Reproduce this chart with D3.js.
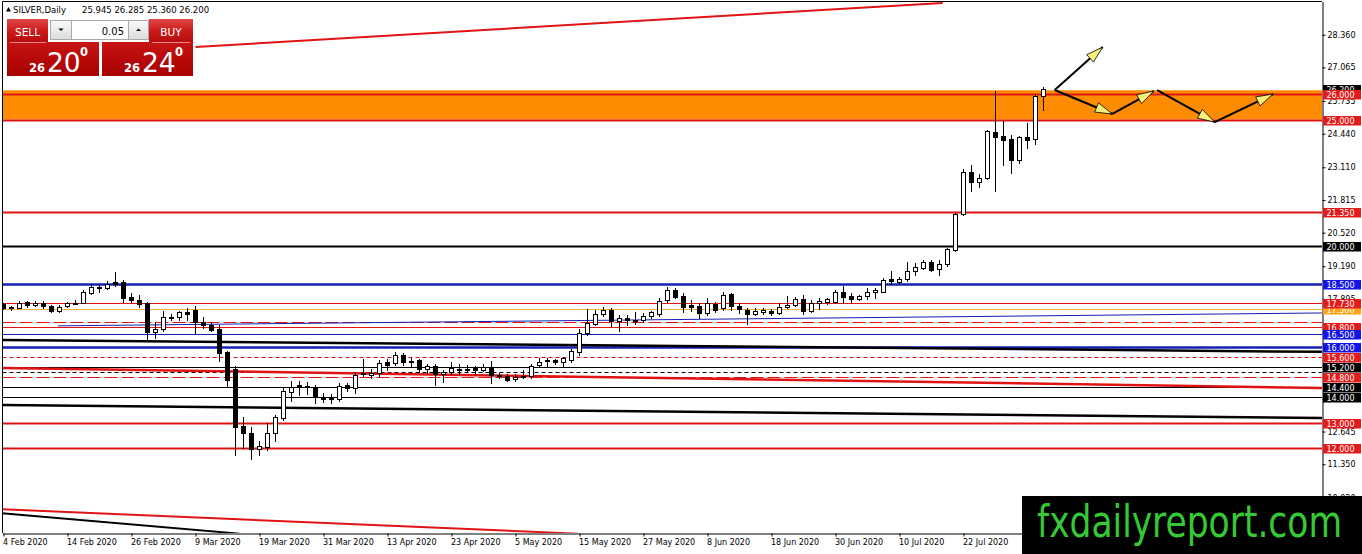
<!DOCTYPE html>
<html>
<head>
<meta charset="utf-8">
<title>SILVER, Daily</title>
<script src="https://cdn.jsdelivr.net/npm/d3@7/dist/d3.min.js"></script>
<style>
  body { margin: 0; background: #fff; }
  svg { display: block; }
  text { font-family: "DejaVu Sans", sans-serif; }
</style>
</head>
<body>
<div id="chart"></div>
<script>
// daily bars from 4 Feb 2020, one row per bar: [open, high, low, close]
const candles = [
  [17.68, 17.72, 17.50, 17.53], [17.58, 17.62, 17.45, 17.52], [17.55, 17.80, 17.52, 17.75], [17.77, 17.82, 17.57, 17.64],
  [17.65, 17.80, 17.63, 17.74], [17.74, 17.80, 17.53, 17.60], [17.62, 17.64, 17.37, 17.40], [17.42, 17.66, 17.37, 17.56],
  [17.60, 17.78, 17.57, 17.73], [17.72, 17.85, 17.68, 17.75], [17.73, 18.23, 17.72, 18.16], [18.12, 18.47, 18.08, 18.38],
  [18.33, 18.45, 18.16, 18.38], [18.33, 18.61, 18.30, 18.49], [18.58, 18.95, 18.42, 18.47], [18.57, 18.65, 17.78, 17.92],
  [17.97, 18.14, 17.78, 17.86], [17.86, 18.06, 17.57, 17.70], [17.72, 17.79, 16.30, 16.60], [16.60, 17.00, 16.36, 16.71],
  [16.70, 17.42, 16.63, 17.17], [17.17, 17.30, 17.05, 17.20], [17.17, 17.43, 17.05, 17.37], [17.38, 17.55, 17.05, 17.28],
  [17.46, 17.60, 16.51, 16.97], [17.00, 17.17, 16.75, 16.86], [16.86, 16.99, 16.63, 16.67], [16.70, 16.85, 15.45, 15.77],
  [15.78, 15.84, 14.43, 14.69], [15.11, 15.24, 11.72, 12.84], [12.86, 13.23, 11.98, 12.57], [12.57, 12.84, 11.54, 11.94],
  [11.95, 12.25, 11.72, 12.06], [12.02, 12.99, 11.92, 12.57], [12.57, 13.30, 12.25, 13.23], [13.20, 14.35, 13.10, 14.25],
  [14.22, 14.65, 13.85, 14.40], [14.47, 14.65, 14.08, 14.42], [14.42, 14.60, 14.12, 14.45], [14.39, 14.49, 13.76, 14.02],
  [14.02, 14.16, 13.82, 13.94], [13.94, 14.12, 13.78, 13.96], [13.92, 14.55, 13.87, 14.45], [14.47, 14.55, 14.23, 14.35],
  [14.36, 15.02, 14.19, 14.89], [14.92, 15.52, 14.85, 14.96], [14.90, 15.12, 14.75, 14.98], [14.96, 15.49, 14.80, 15.36],
  [15.38, 15.52, 15.08, 15.28], [15.34, 15.80, 15.28, 15.67], [15.67, 15.76, 15.28, 15.40], [15.45, 15.56, 15.20, 15.43],
  [15.46, 15.53, 14.99, 15.14], [15.13, 15.32, 14.96, 15.22], [15.24, 15.32, 14.48, 14.94], [14.92, 15.08, 14.62, 15.02],
  [15.00, 15.38, 14.92, 15.16], [15.13, 15.30, 14.92, 15.12], [15.12, 15.26, 15.00, 15.14], [15.16, 15.22, 14.93, 15.10],
  [15.10, 15.30, 15.04, 15.21], [15.19, 15.44, 14.58, 14.88], [14.89, 14.95, 14.76, 14.84], [14.86, 14.94, 14.65, 14.70],
  [14.72, 14.94, 14.66, 14.82], [14.80, 15.08, 14.76, 14.86], [14.84, 15.31, 14.76, 15.25], [15.28, 15.57, 15.19, 15.38],
  [15.43, 15.57, 15.21, 15.46], [15.47, 15.53, 15.31, 15.38], [15.38, 15.58, 15.25, 15.54], [15.48, 15.90, 15.40, 15.83],
  [15.81, 16.69, 15.68, 16.56], [16.56, 17.51, 16.47, 16.94], [16.89, 17.45, 16.85, 17.30], [17.29, 17.59, 17.23, 17.46],
  [17.46, 17.55, 16.84, 17.02], [17.03, 17.26, 16.64, 17.13], [17.16, 17.26, 16.86, 17.06], [17.05, 17.36, 16.90, 17.08],
  [17.07, 17.33, 16.97, 17.23], [17.22, 17.43, 17.13, 17.36], [17.29, 17.92, 17.23, 17.83], [17.85, 18.38, 17.79, 18.25],
  [18.25, 18.34, 17.94, 17.98], [18.01, 18.12, 17.39, 17.59], [17.66, 17.85, 17.42, 17.58], [17.61, 17.75, 17.15, 17.35],
  [17.35, 17.92, 17.26, 17.72], [17.70, 17.79, 17.39, 17.46], [17.53, 18.16, 17.46, 18.05], [18.08, 18.14, 17.46, 17.62],
  [17.62, 17.72, 17.33, 17.49], [17.46, 17.55, 16.91, 17.29], [17.29, 17.52, 17.24, 17.42], [17.38, 17.55, 17.30, 17.46],
  [17.43, 17.50, 17.26, 17.32], [17.32, 17.75, 17.30, 17.56], [17.56, 18.01, 17.55, 17.66], [17.64, 17.99, 17.60, 17.89],
  [17.88, 18.05, 17.29, 17.42], [17.43, 17.85, 17.37, 17.75], [17.73, 17.94, 17.49, 17.81], [17.77, 17.94, 17.70, 17.89],
  [17.79, 18.25, 17.75, 18.16], [18.16, 18.41, 17.75, 17.96], [18.00, 18.12, 17.79, 17.89], [17.90, 18.05, 17.86, 18.01],
  [18.00, 18.32, 17.89, 18.19], [18.16, 18.32, 17.92, 18.25], [18.19, 18.71, 18.16, 18.64], [18.68, 18.99, 18.49, 18.59],
  [18.58, 18.78, 18.49, 18.69], [18.67, 19.35, 18.62, 18.99], [19.00, 19.32, 18.84, 19.15], [19.13, 19.44, 19.08, 19.37],
  [19.37, 19.44, 19.01, 19.04], [19.08, 19.44, 18.86, 19.29], [19.28, 19.93, 19.20, 19.86], [19.83, 21.31, 19.81, 21.26],
  [21.25, 23.04, 21.20, 22.91], [22.91, 23.20, 22.17, 22.51], [22.53, 22.85, 22.32, 22.68], [22.70, 24.59, 22.63, 24.55],
  [24.50, 26.13, 22.17, 24.32], [24.35, 24.94, 23.20, 24.19], [24.22, 24.39, 22.88, 23.40], [23.40, 24.35, 23.29, 24.30],
  [24.30, 24.86, 23.86, 24.20], [24.22, 26.00, 24.02, 25.93], [25.945, 26.285, 25.36, 26.20]
];

// time axis: bar index and its label
const dateTickBars = [0, 8, 16, 24, 32, 40, 48, 56, 64, 72, 80, 88, 96, 104, 112, 120];
const dateTickLabels = ["4 Feb 2020", "14 Feb 2020", "26 Feb 2020", "9 Mar 2020", "19 Mar 2020", "31 Mar 2020",
  "13 Apr 2020", "23 Apr 2020", "5 May 2020", "15 May 2020", "27 May 2020", "8 Jun 2020",
  "18 Jun 2020", "30 Jun 2020", "10 Jul 2020", "22 Jul 2020"];

const priceTicks = [28.360, 27.065, 25.735, 24.440, 23.110, 21.815, 20.520, 19.190,
  17.895, 16.565, 15.270, 13.940, 12.645, 11.350, 10.020];

// horizontal levels, grouped by how they are drawn
const redThick = [26.0, 25.0, 21.35, 13.0, 12.0];
const redThin = [17.73, 16.8];
const redDashed = [14.8];
const redDashedNoTag = [17.0];
const redDotted = [15.6];
const blackThick = [20.0];
const blackThin = [15.2, 14.4, 14.0];
const blackDottedNoTag = [15.0];
const blueThick = [18.5, 16.0];
const blueThin = [16.5];
const orangeThin = [17.5];

// resistance zone [top, bottom]
const zone = [26.16, 25.0];

// trend lines as [bar index, price] anchors
const trendTop = [[24, 27.87], [117.4, 29.62]];
const trendBlue = [[6.8, 16.83], [164.8, 17.34]];
const trendBlackHigh = [[-0.2, 16.27], [164.8, 15.80]];
const trendRed = [[-0.2, 15.16], [164.8, 14.37]];
const trendBlackLow = [[-0.2, 13.70], [164.8, 13.18]];
const trendRedBottom = [[-0.2, 9.57], [71.8, 8.60]];
const trendBlackBottom = [[-0.2, 9.41], [29.5, 8.60]];

// projected paths, each drawn as arrows
const pathUp = [[131.4, 26.17], [137.4, 27.87]];
const pathZig1 = [[131.4, 26.17], [138.6, 25.22], [143.8, 26.13]];
const pathZig2 = [[144.2, 26.17], [151.4, 24.90], [158.7, 26.01]];

const symbol = "SILVER,Daily";
const sellPrice = ["26", "20", "0"];
const buyPrice = ["26", "24", "0"];
const lotSize = "0.05";

const width = 1362, height = 554;
const plot = { left: 2.5, right: 1322, top: 1.5, bottom: 533 };

const svg = d3.select("#chart").append("svg")
  .attr("width", width).attr("height", height);

const defs = svg.append("defs");
defs.append("clipPath").attr("id", "plotclip").append("rect")
  .attr("x", plot.left).attr("y", plot.top)
  .attr("width", plot.right - plot.left).attr("height", plot.bottom - plot.top);

function gradient(id, stops) {
  const g = defs.append("linearGradient").attr("id", id)
    .attr("x1", 0).attr("y1", 0).attr("x2", 0).attr("y2", 1);
  stops.forEach(s => g.append("stop").attr("offset", s[0]).attr("stop-color", s[1]));
}
gradient("btn", [[0, "#e04848"], [0.5, "#cc1c1c"], [1, "#b80c0c"]]);
gradient("big", [[0, "#c81414"], [1, "#a60000"]]);
gradient("spin", [[0, "#fafafa"], [1, "#dcdcdc"]]);

svg.append("rect").attr("width", width).attr("height", height).attr("fill", "#fff");

const x = d3.scaleLinear().domain([-0.125, 164.81]).range([plot.left, plot.right]);
const y = d3.scaleLinear().domain([8.626, 29.675]).range([plot.bottom, plot.top]);

const chart = svg.append("g").attr("clip-path", "url(#plotclip)");

// zone
chart.append("rect")
  .attr("x", plot.left).attr("width", plot.right - plot.left)
  .attr("y", y(zone[0])).attr("height", y(zone[1]) - y(zone[0]))
  .attr("fill", "#ff8c00");

const RED = "#e01414", BLUE = "#1420b4", ORANGE = "#f2ae2e";

const levelStyles = [
  { values: orangeThin, color: ORANGE, width: 1, tag: "#ffa31a" },
  { values: redThin, color: RED, width: 1, tag: "#e41b1b" },
  { values: redDashedNoTag, color: RED, width: 1, dash: "13,4" },
  { values: redDashed, color: RED, width: 1, dash: "13,4", tag: "#e41b1b" },
  { values: redDotted, color: RED, width: 1, dash: "4,3", tag: "#e41b1b" },
  { values: blackThin, color: "#000", width: 1, tag: "#000" },
  { values: blackDottedNoTag, color: "#000", width: 1, dash: "4,3" },
  { values: blueThin, color: BLUE, width: 1, tag: "#1414e6" },
  { values: blueThick, color: BLUE, width: 2.5, tag: "#1414e6" },
  { values: blackThick, color: "#000", width: 2, tag: "#000" },
  { values: redThick, color: RED, width: 2, tag: "#e41b1b" }
];

levelStyles.forEach(s => {
  chart.selectAll(null).data(s.values).enter().append("line")
    .attr("x1", plot.left).attr("x2", plot.right)
    .attr("y1", d => Math.round(y(d)) + 0.5).attr("y2", d => Math.round(y(d)) + 0.5)
    .attr("stroke", s.color).attr("stroke-width", s.width)
    .attr("stroke-dasharray", s.dash || null);
});

const trendStyles = [
  { pts: trendTop, color: RED, width: 2 },
  { pts: trendBlue, color: BLUE, width: 1 },
  { pts: trendBlackHigh, color: "#000", width: 2.5 },
  { pts: trendRed, color: RED, width: 2.5 },
  { pts: trendBlackLow, color: "#000", width: 2.5 },
  { pts: trendRedBottom, color: RED, width: 2 },
  { pts: trendBlackBottom, color: "#000", width: 2 }
];
const lineGen = d3.line().x(d => x(d[0])).y(d => y(d[1]));
trendStyles.forEach(t => {
  chart.append("path").datum(t.pts).attr("d", lineGen)
    .attr("fill", "none").attr("stroke", t.color).attr("stroke-width", t.width);
});

// candles
const px = i => Math.floor(x(i)) + 0.5;
const bar = chart.selectAll(".bar").data(candles).enter().append("g").attr("class", "bar");
bar.append("line")
  .attr("x1", (d, i) => px(i)).attr("x2", (d, i) => px(i))
  .attr("y1", d => Math.round(y(d[1]))).attr("y2", d => Math.round(y(d[2])) + 1)
  .attr("stroke", "#000").attr("stroke-width", 1);
bar.append("rect")
  .attr("x", (d, i) => px(i) - 2)
  .attr("width", 4)
  .attr("y", d => Math.round(y(Math.max(d[0], d[3]))) + 0.5)
  .attr("height", d => Math.max(1, Math.round(y(Math.min(d[0], d[3]))) - Math.round(y(Math.max(d[0], d[3])))))
  .attr("fill", d => d[3] >= d[0] ? "#fff" : "#000")
  .attr("stroke", "#000").attr("stroke-width", 1);

// projected arrows
function arrowHead(p0, p1) {
  const x0 = x(p0[0]), y0 = y(p0[1]), x1 = x(p1[0]), y1 = y(p1[1]);
  const len = Math.hypot(x1 - x0, y1 - y0), ux = (x1 - x0) / len, uy = (y1 - y0) / len;
  const L = 17, w = 5;
  const bx = x1 - ux * L, by = y1 - uy * L;
  return `M${x1},${y1}L${bx - uy * w},${by + ux * w}L${bx + uy * w},${by - ux * w}Z`;
}
[pathUp, pathZig1, pathZig2].forEach(p => {
  for (let k = 1; k < p.length; k++) {
    chart.append("path").datum([p[k - 1], p[k]]).attr("d", lineGen)
      .attr("stroke", "#000").attr("stroke-width", 2).attr("fill", "none");
    chart.append("path").attr("d", arrowHead(p[k - 1], p[k]))
      .attr("fill", "#f6ef7c").attr("stroke", "#000").attr("stroke-width", 0.8);
  }
});

// frame and axes
svg.append("line").attr("x1", plot.left).attr("x2", plot.right).attr("y1", plot.top).attr("y2", plot.top)
  .attr("stroke", "#000");
svg.append("line").attr("x1", plot.left).attr("x2", plot.left).attr("y1", plot.top).attr("y2", plot.bottom)
  .attr("stroke", "#000");

const xAxis = svg.append("g").attr("transform", `translate(0,${plot.bottom + 0.5})`)
  .call(d3.axisBottom(x).tickValues(dateTickBars)
    .tickFormat((d, i) => dateTickLabels[i]).tickSize(3).tickSizeOuter(0));
xAxis.selectAll(".tick line").attr("transform", (d) => `translate(${px(d) - x(d)},0)`);
xAxis.selectAll(".tick text")
  .attr("text-anchor", "start").attr("x", -1).attr("y", 6).attr("dy", "0.71em")
  .attr("font-size", 8).attr("font-family", "DejaVu Sans").attr("fill", "#000");

const yAxis = svg.append("g").attr("transform", `translate(${plot.right + 0.5},0)`)
  .call(d3.axisRight(y).tickValues(priceTicks).tickFormat(d3.format(".3f"))
    .tickSize(3).tickSizeOuter(0).tickPadding(2));
yAxis.selectAll(".tick text")
  .attr("font-size", 8).attr("font-family", "DejaVu Sans").attr("fill", "#000");
[xAxis, yAxis].forEach(a => a.select(".domain").attr("stroke", "#000"));

// price tags on the axis
const tags = [];
levelStyles.filter(s => s.tag && s.values !== orangeThin).forEach(s =>
  s.values.forEach(v => tags.push({ v, bg: s.tag })));
tags.push({ v: candles[candles.length - 1][3], bg: "#000" });
tags.sort((a, b) => b.v - a.v);
const orangeTags = orangeThin.map(v => ({ v, bg: "#ffa31a" }));
// the 17.730 tag sits over the orange one
const tagOrder = [...tags.filter(t => t.v !== 17.73), ...orangeTags, ...tags.filter(t => t.v === 17.73)];

const tagG = svg.selectAll(".tag").data(tagOrder).enter().append("g").attr("class", "tag");
tagG.append("rect")
  .attr("x", plot.right + 1).attr("width", 38)
  .attr("y", d => Math.round(y(d.v)) - 4).attr("height", 9.5)
  .attr("fill", d => d.bg);
tagG.append("text")
  .attr("x", plot.right + 4.5).attr("y", d => Math.round(y(d.v)) + 3.5)
  .attr("font-size", 8).attr("fill", "#fff")
  .text(d => d3.format(".3f")(d.v));

// header
const last = candles[candles.length - 1];
svg.append("path").attr("d", "M6,11.5L8.5,7L11,11.5Z").attr("fill", "#000");
const head = svg.append("text").attr("y", 13).attr("font-size", 8.5).attr("fill", "#000");
head.append("tspan").attr("x", 13).text(symbol);
head.append("tspan").attr("x", 82)
  .text([last[0], last[1], last[2], last[3]].map(d3.format(".3f")).join(" "));

// one-click trading panel
const panel = svg.append("g");
panel.append("rect").attr("x", 7).attr("y", 19).attr("width", 41).attr("height", 23).attr("fill", "url(#btn)");
panel.append("rect").attr("x", 149).attr("y", 19).attr("width", 44).attr("height", 23).attr("fill", "url(#btn)");
panel.append("rect").attr("x", 7).attr("y", 42).attr("width", 92).attr("height", 34).attr("fill", "url(#big)");
panel.append("rect").attr("x", 102).attr("y", 42).attr("width", 91).attr("height", 34).attr("fill", "url(#big)");
panel.append("line").attr("x1", 10).attr("x2", 46).attr("y1", 42.5).attr("y2", 42.5).attr("stroke", "#e88").attr("stroke-width", 1);
panel.append("line").attr("x1", 152).attr("x2", 190).attr("y1", 42.5).attr("y2", 42.5).attr("stroke", "#e88").attr("stroke-width", 1);
panel.append("rect").attr("x", 50.5).attr("y", 20.5).attr("width", 21).attr("height", 19)
  .attr("fill", "url(#spin)").attr("stroke", "#a8a8a8");
panel.append("rect").attr("x", 71.5).attr("y", 20.5).attr("width", 57).attr("height", 19)
  .attr("fill", "#fff").attr("stroke", "#a8a8a8");
panel.append("rect").attr("x", 128.5).attr("y", 20.5).attr("width", 20).attr("height", 19)
  .attr("fill", "url(#spin)").attr("stroke", "#a8a8a8");
panel.append("path").attr("d", "M58.5,28.5L63.5,28.5L61,31Z").attr("fill", "#000");
panel.append("path").attr("d", "M136,31L141,31L138.5,28.5Z").attr("fill", "#000");
panel.append("text").attr("x", 124).attr("y", 34.5).attr("text-anchor", "end")
  .attr("font-size", 10).attr("fill", "#000").text(lotSize);
panel.append("text").attr("x", 27.5).attr("y", 35.5).attr("text-anchor", "middle")
  .attr("font-size", 10.5).attr("fill", "#fff").text("SELL");
panel.append("text").attr("x", 171).attr("y", 35.5).attr("text-anchor", "middle")
  .attr("font-size", 10.5).attr("fill", "#fff").text("BUY");

function quote(parts, x0) {
  panel.append("text").attr("x", x0).attr("y", 71.5)
    .attr("font-family", "Liberation Sans").attr("font-size", 11.5).attr("font-weight", "bold")
    .attr("fill", "#fff").text(parts[0]);
  panel.append("text").attr("x", x0 + 18).attr("y", 71.5)
    .attr("font-family", "Liberation Sans").attr("font-size", 26.5)
    .attr("fill", "#fff").text(parts[1]);
  panel.append("text").attr("x", x0 + 51).attr("y", 55.5)
    .attr("font-family", "Liberation Sans").attr("font-size", 11.5).attr("font-weight", "bold")
    .attr("fill", "#fff").text(parts[2]);
}
quote(sellPrice, 29);
quote(buyPrice, 124);

// watermark
svg.append("rect").attr("x", 1022).attr("y", 496).attr("width", 340).attr("height", 58).attr("fill", "#000");
svg.append("text").attr("x", 1037).attr("y", 537)
  .attr("font-family", "Liberation Sans").attr("font-size", 45)
  .attr("textLength", 305).attr("lengthAdjust", "spacingAndGlyphs")
  .attr("fill", "#36c936").text("fxdailyreport.com");
</script>
</body>
</html>
